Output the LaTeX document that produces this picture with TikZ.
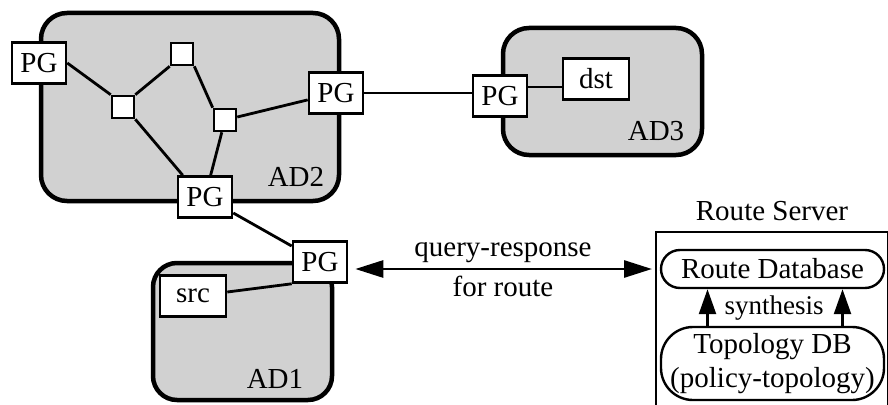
\documentclass[tikz,border=0pt]{standalone}
\usepackage{fontspec}
\setmainfont{Liberation Serif}
\usetikzlibrary{arrows.meta}
\begin{document}
\begin{tikzpicture}[x=1pt,y=-1pt,
  lbl/.style={font=\fontsize{29}{34}\selectfont},
  adomain/.style={draw=black,line width=4.5pt,fill=black!18,rounded corners=26pt},
  gw/.style={draw=black,line width=2.6pt,fill=white,minimum width=54pt,minimum height=41pt,inner sep=0pt,lbl},
  rtr/.style={draw=black,line width=2.6pt,fill=white,minimum size=22pt,inner sep=0pt},
  host/.style={draw=black,line width=2.6pt,fill=white,minimum width=66pt,minimum height=41pt,inner sep=0pt,lbl},
  link/.style={line width=2.8pt},
  pill/.style={draw=black,line width=2.4pt,fill=white,inner sep=0pt,minimum width=223pt,lbl,align=center},
  bigtip/.style={-{Triangle[length=25pt,width=17pt]}}
]
\useasboundingbox (0,0) rectangle (888,404);
\clip (0,0) rectangle (888,404);

% administrative domains
\draw[adomain] (41,13) rectangle (339,201);
\draw[adomain] (503,28) rectangle (702,155);
\draw[adomain,rounded corners=24pt] (153,263) rectangle (332,400);

% policy gateways, routers and hosts
\node[gw] (pga) at (39,63) {PG};
\node[gw] (pgb) at (336,93) {PG};
\node[gw] (pgc) at (205,197) {PG};
\node[gw] (pgd) at (320,262) {PG};
\node[gw] (pge) at (500,96) {PG};
\node[rtr] (r1) at (182,54) {};
\node[rtr] (r2) at (123,107) {};
\node[rtr] (r3) at (225,120) {};
\node[host] (dst) at (596,79) {dst};
\node[host] (src) at (193,296) {src};

% domain names
\node[lbl] (ad2) at (296,177) {AD2};
\node[lbl] (ad3) at (656,131) {AD3};
\node[lbl] (ad1) at (275,379) {AD1};

% links
\draw[link] (pga.east) -- (r2.north west);
\draw[link] (r2.north east) -- (r1.south west);
\draw[link] (r1.south east) -- (r3.north west);
\draw[link] (r3) -- (pgb);
\draw[link] (r2.south east) -- ([xshift=6pt]pgc.north west);
\draw[link] (r3) -- (pgc);
\draw[link] (pgc) -- (pgd);
\draw[line width=2pt] (pgb.east) -- (pge.west |- pgb.east);
\coordinate (pe) at ([yshift=9pt]pge.east);
\draw[link] (pe) -- (pe -| dst.west);
\draw[link] ([yshift=4pt]src.east) -- (pgd.south west);

% route server
\node[draw=black,line width=2pt,minimum width=232pt,minimum height=200pt,anchor=north west,inner sep=0pt] (rs) at (655,231) {};
\node[lbl] (rstitle) at (772,211) {Route Server};
\node[pill,minimum height=38pt,rounded corners=19pt] (rdb) at (772.5,269) {Route Database};
\node[pill,minimum height=73pt,rounded corners=32pt] (tdb) at (772.5,363.5) {Topology DB\\(policy-topology)};
\draw[line width=2.4pt,bigtip] ([xshift=-65pt]tdb.north) -- ([xshift=-65pt]rdb.south);
\draw[line width=2.4pt,bigtip] ([xshift=70pt]tdb.north) -- ([xshift=70pt]rdb.south);
\node[font=\fontsize{27}{30}\selectfont] (syn) at (774,308) {synthesis};

% query-response exchange
\draw[link,{Triangle[length=28pt,width=17pt]}-{Triangle[length=28pt,width=17pt]}]
  ([xshift=7pt]pgd.east |- rdb.west) -- ([xshift=-3pt]rs.west |- rdb.west);
\node[lbl] (q1) at (503,253) {query-response};
\node[lbl] (q2) at (503,286) {for route};
\end{tikzpicture}
\end{document}
